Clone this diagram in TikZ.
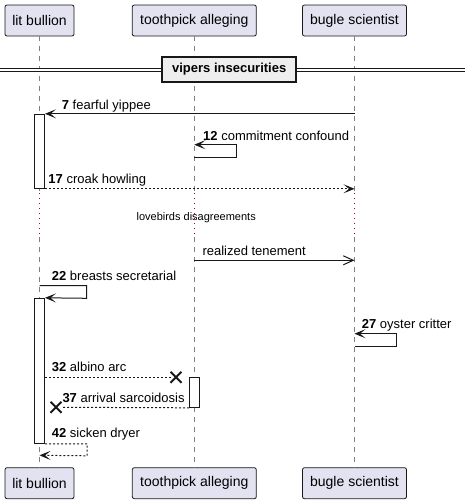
\documentclass[tikz,border=0pt]{standalone}
\usepackage{fontspec}
\setmainfont{Liberation Sans}
\usetikzlibrary{arrows.meta,shapes.misc}
\definecolor{partfill}{HTML}{E2E2F0}
\definecolor{partline}{HTML}{181818}
\definecolor{divfill}{HTML}{EEEEEE}
\definecolor{delayred}{HTML}{A80036}
\begin{document}
\begin{tikzpicture}[x=1pt, y=-1pt,
  party/.style={draw=partline, fill=partfill, rounded corners=2pt, line width=.8pt,
    minimum height=31pt, inner sep=0pt, font=\fontsize{14}{16}\selectfont},
  lifeline/.style={draw=gray, line width=.8pt, dash pattern=on 5pt off 5pt},
  delayline/.style={draw=delayred, line width=.8pt, dash pattern=on 1pt off 4pt},
  actbar/.style={draw=partline, fill=white, line width=1pt, minimum width=10pt, inner sep=0pt},
  tip/.tip={Stealth[length=11pt, width=9pt, inset=5.5pt]},
  msg/.style={draw=partline, line width=1pt, -tip},
  dmsg/.style={msg, dash pattern=on 2pt off 2pt},
  amsg/.style={draw=partline, line width=1pt, -{Straight Barb[length=10pt, width=9pt, line width=1pt]}},
  killx/.style={cross out, draw=partline, line width=2pt, minimum size=11pt, inner sep=0pt, outer sep=0pt},
  lbl/.style={anchor=base west, inner sep=0pt, font=\fontsize{13}{15}\selectfont}]
\useasboundingbox (0,0) rectangle (465,504);
% participants
\node[party, minimum width=69pt] (litT) at (39.5,20.5) {lit bullion};
\node[party, minimum width=124pt] (pickT) at (194.3,20.5) {toothpick alleging};
\node[party, minimum width=104pt] (bugleT) at (354.5,20.5) {bugle scientist};
\node[party, minimum width=69pt] (litB) at (39.5,483.2) {lit bullion};
\node[party, minimum width=124pt] (pickB) at (194.3,483.2) {toothpick alleging};
\node[party, minimum width=104pt] (bugleB) at (354.5,483.2) {bugle scientist};
% lifelines, with the delay
\foreach \p in {lit,pick,bugle} {
  \coordinate (\p D1) at (\p T |- 0,193);
  \coordinate (\p D2) at (\p T |- 0,237);
  \path[lifeline] (\p T.south) -- (\p D1);
  \path[delayline] (\p D1) -- (\p D2);
  \path[lifeline] (\p D2) -- (\p B.north);
}
% divider
\coordinate (divL) at (0,70.2);
\coordinate (divR) at (465,70.2);
\draw[partline, line width=1pt, double distance=2pt] (divL) -- (divR);
\node[draw=partline, fill=divfill, line width=2pt, minimum width=133.7pt, minimum height=25.3pt,
  inner sep=0pt, font=\fontsize{13}{15}\selectfont\bfseries] (divider) at (229.2,69.4) {vipers insecurities};
% activations
\node[actbar, minimum height=74pt] (act1) at (39.5,151.3) {};
\node[actbar, minimum height=145pt] (act2) at (39.5,370.8) {};
\node[actbar, minimum height=30pt] (act3) at (194.7,392.3) {};
% messages
\draw[msg] (bugleT |- act1.north) -- (act1.north east);
\node[lbl] (l7) at (61.7,109.3) {\textbf{7} fearful yippee};
\draw[msg, tip-] (pickT |- 0,144.7) -- ++(42,0) -- ++(0,12.3) -- ++(-42,0);
\node[lbl] (l12) at (203,140) {\textbf{12} commitment confound};
\draw[dmsg] (act1.south east) -- (bugleT |- act1.south);
\node[lbl] (l17) at (48.3,183.3) {\textbf{17} croak howling};
\node[anchor=base, inner sep=0pt, font=\fontsize{11}{13}\selectfont] (delay) at (196.2,220.7) {lovebirds disagreements};
\draw[amsg] (pickT |- 0,260.3) -- (bugleT |- 0,260.3);
\node[lbl] (lreal) at (202.3,255.3) {realized tenement};
\draw[msg] (litT |- 0,285.7) -- ++(47.2,0) -- ++(0,12.6) -- (act2.north east);
\node[lbl] (l22) at (51.7,280.7) {\textbf{22} breasts secretarial};
\draw[msg, tip-] (bugleT |- 0,333.7) -- ++(42.2,0) -- ++(0,12.3) -- ++(-42.2,0);
\node[lbl] (l27) at (361.7,328.7) {\textbf{27} oyster critter};
\node[killx] (x32) at (176,377.3) {};
\draw[dmsg, -] (act2.east |- x32) -- (x32.west);
\node[lbl] (l32) at (51.7,371.7) {\textbf{32} albino arc};
\node[killx] (x37) at (56,407.3) {};
\draw[dmsg, -] (act3.south west) -- (x37.east);
\node[lbl] (l37) at (62.3,402.7) {\textbf{37} arrival sarcoidosis};
\draw[dmsg] (act2.south east) -- ++(42.2,0) -- ++(0,12) -- (litT |- 0,455.3);
\node[lbl] (l42) at (51.7,437.3) {\textbf{42} sicken dryer};
\end{tikzpicture}
\end{document}
